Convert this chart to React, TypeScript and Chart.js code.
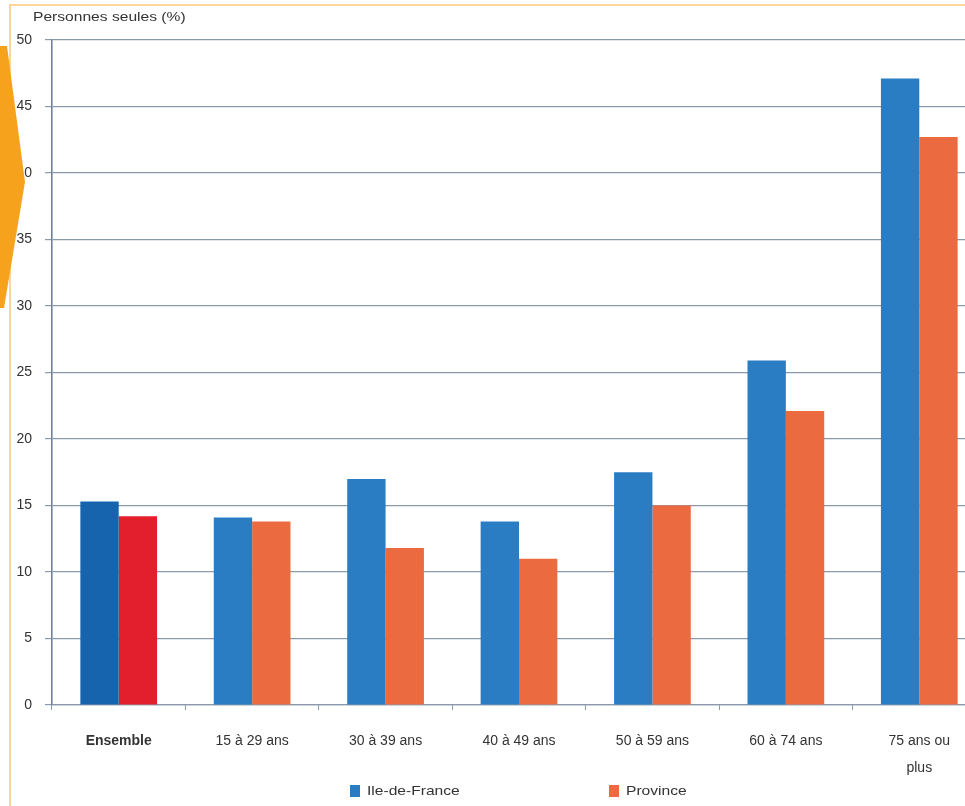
import React, { useEffect, useRef } from "react";
import { Chart, registerables } from "chart.js";

Chart.register(...registerables);

const categories: string[][] = [
  ["Ensemble"],
  ["15 à 29 ans"],
  ["30 à 39 ans"],
  ["40 à 49 ans"],
  ["50 à 59 ans"],
  ["60 à 74 ans"],
  ["75 ans ou", "plus"],
];
const idfValues = [15.3, 14.1, 17.0, 13.8, 17.5, 25.9, 47.1];
const provinceValues = [14.2, 13.8, 11.8, 11.0, 15.0, 22.1, 42.7];
const yTickValues = [0, 5, 10, 15, 20, 25, 30, 35, 40, 45, 50];
const seriesNames = ["Ile-de-France", "Province"];
const axisTitle = "Personnes seules (%)";

const idfColors = ["#1764ae", "#2b7dc3", "#2b7dc3", "#2b7dc3", "#2b7dc3", "#2b7dc3", "#2b7dc3"];
const provColors = ["#e31f2d", "#ec6a40", "#ec6a40", "#ec6a40", "#ec6a40", "#ec6a40", "#ec6a40"];

const FONT = '"Liberation Sans", Arial, sans-serif';
const TEXT = "#333333";
const GRID = "#8a9aab";

const overlayPlugin = {
  id: "overlay",
  afterDraw(chart: any) {
    const ctx = chart.ctx;
    ctx.save();
    ctx.fillStyle = TEXT;
    ctx.textBaseline = "middle";
    ctx.textAlign = "left";
    ctx.save();
    ctx.translate(33, 17);
    ctx.scale(1.2, 1);
    ctx.font = `13px ${FONT}`;
    ctx.fillText(axisTitle, 0, 0);
    ctx.restore();
    const items = [
      { x: 350, color: "#2b7dc3", label: seriesNames[0] },
      { x: 609, color: "#ec6a40", label: seriesNames[1] },
    ];
    items.forEach((it) => {
      ctx.fillStyle = it.color;
      ctx.fillRect(it.x, 785, 10, 12);
      ctx.fillStyle = TEXT;
      ctx.save();
      ctx.translate(it.x + 17, 791);
      ctx.scale(1.2, 1);
      ctx.font = `13px ${FONT}`;
      ctx.fillText(it.label, 0, 0);
      ctx.restore();
    });
    ctx.restore();
  },
};

export default function App() {
  const ref = useRef<HTMLCanvasElement | null>(null);

  useEffect(() => {
    if (!ref.current) return;
    const chart = new Chart(ref.current, {
      type: "bar",
      data: {
        labels: categories,
        datasets: [
          {
            label: seriesNames[0],
            data: idfValues,
            backgroundColor: idfColors,
            categoryPercentage: 0.575,
            barPercentage: 1,
          },
          {
            label: seriesNames[1],
            data: provinceValues,
            backgroundColor: provColors,
            categoryPercentage: 0.575,
            barPercentage: 1,
          },
        ],
      },
      options: {
        animation: false,
        responsive: false,
        devicePixelRatio: 1,
        layout: { padding: { top: 40, left: 0, right: 0, bottom: 0 } },
        plugins: {
          legend: { display: false },
          title: { display: false },
          tooltip: { enabled: false },
        },
        scales: {
          x: {
            type: "category",
            offset: true,
            grid: {
              display: true,
              drawOnChartArea: false,
              drawTicks: true,
              tickLength: 5,
              color: GRID,
              offset: true,
            },
            border: { display: true, color: GRID, width: 1.2 },
            ticks: {
              padding: 18,
              color: TEXT,
              maxRotation: 0,
              autoSkip: false,
              font: (c: any) => ({
                family: FONT,
                size: 14,
                lineHeight: 1.9,
                weight: c.index === 0 ? "bold" : "normal",
              }),
            },
            afterFit: (s: any) => {
              s.height = 101;
            },
          },
          y: {
            min: 0,
            max: 50,
            afterBuildTicks: (s: any) => {
              s.ticks = yTickValues.map((v) => ({ value: v }));
            },
            grid: { color: GRID, lineWidth: 1.2, tickLength: 7, drawTicks: true },
            border: { display: true, color: "#6d8197", width: 1.6 },
            ticks: {
              padding: 13,
              color: TEXT,
              font: { family: FONT, size: 14 },
            },
            afterFit: (s: any) => {
              s.width = 52;
            },
          },
        },
      },
      plugins: [overlayPlugin],
    });
    return () => chart.destroy();
  }, []);

  return (
    <div
      style={{
        position: "absolute",
        left: 0,
        top: 0,
        width: 965,
        height: 806,
        overflow: "hidden",
        background: "#ffffff",
      }}
    >
      <div
        style={{
          position: "absolute",
          left: 9,
          top: 4,
          width: 1000,
          height: 900,
          borderTop: "2px solid #fdd49c",
          borderLeft: "2px solid #fdd49c",
        }}
      />
      <canvas
        ref={ref}
        width={986}
        height={806}
        style={{ position: "absolute", left: 0, top: 0, width: 986, height: 806 }}
      />
      <div
        style={{
          position: "absolute",
          left: 0,
          top: 0,
          width: 40,
          height: 320,
          background: "#f6a21c",
          clipPath: "polygon(0px 46px, 7px 46px, 25px 182px, 4px 308px, 0px 308px)",
        }}
      />
    </div>
  );
}
